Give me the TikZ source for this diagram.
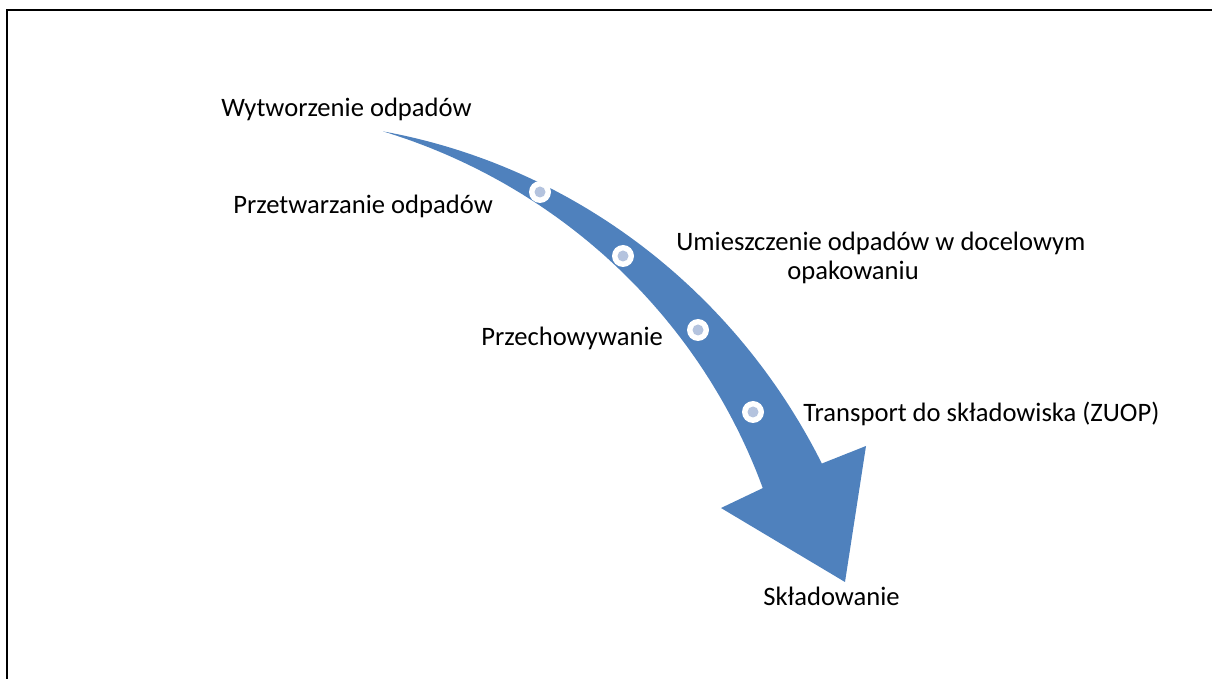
\documentclass[tikz,border=0pt]{standalone}
\usepackage{fontspec}
\setmainfont{Carlito}
\definecolor{arrowblue}{HTML}{4F81BD}
\definecolor{dotfill}{HTML}{B4C3DE}
\tikzset{
  lbl/.style={anchor=base west, inner sep=0pt, font=\fontsize{13.3}{16}\selectfont, text=black},
  dotring/.style={circle, fill=white, minimum size=11pt, inner sep=0pt},
  dotcore/.style={circle, fill=dotfill, minimum size=5.5pt, inner sep=0pt},
  frameline/.style={line width=1.3pt, black}
}
\begin{document}
\begin{tikzpicture}[x=0.5pt, y=-0.5pt]
\useasboundingbox (0,0) rectangle (1212,679);
% frame
\draw[frameline] (7,679) -- (7,10) -- (1212,10);
% curved arrow
\fill[arrowblue]
  plot[domain=75.75:22.9, samples=80, variable=\t]
    ({236+(598+38*(75.75-\t)/52.85)*cos(\t)}, {711-(598+38*(75.75-\t)/52.85)*sin(\t)})
  -- (866,446) -- (845,582) -- (721,508) -- (763,488)
  -- plot[domain=22.9:75.75, samples=80, variable=\t]
    ({236+(598-26*(75.75-\t)/52.85)*cos(\t)}, {711-(598-26*(75.75-\t)/52.85)*sin(\t)})
  -- cycle;
% dots
\foreach \n/\px/\py in {d1/540/192, d2/623/256, d3/698/330, d4/753/412} {
  \node[dotring] (\n) at (\px,\py) {};
  \node[dotcore] at (\n) {};
}
% labels
\node[lbl] (l1) at (221,117) {Wytworzenie odpadów};
\node[lbl] (l2) at (233,214) {Przetwarzanie odpadów};
\node[lbl] (l3a) at (676,251) {Umieszczenie odpadów w docelowym};
\node[lbl] (l3b) at (787,280) {opakowaniu};
\node[lbl] (l4) at (481,346) {Przechowywanie};
\node[lbl] (l5) at (803,422) {Transport do składowiska (ZUOP)};
\node[lbl] (l6) at (763,605) {Składowanie};
\end{tikzpicture}
\end{document}
